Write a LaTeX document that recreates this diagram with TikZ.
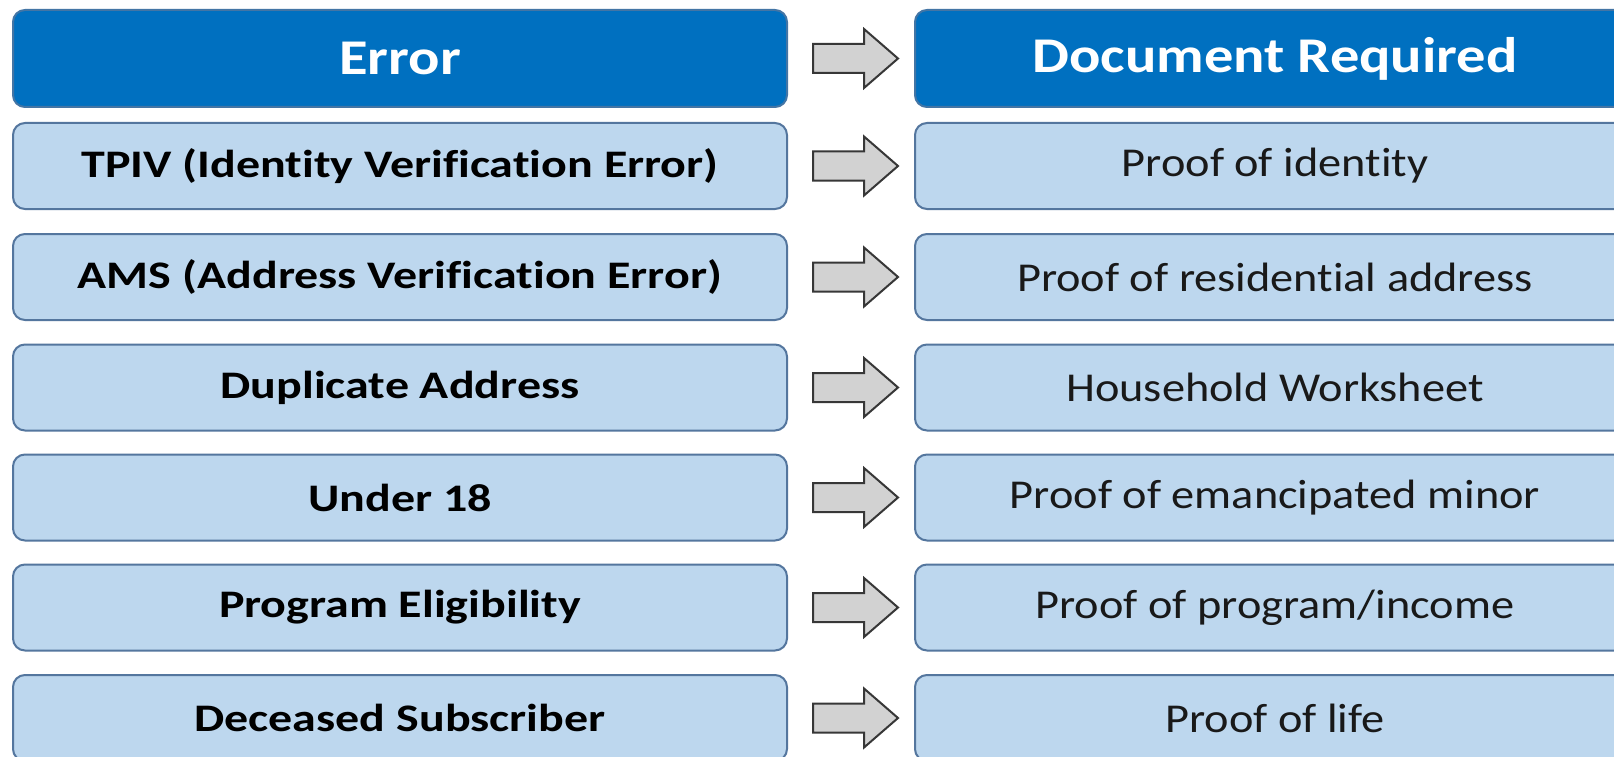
\documentclass[tikz,border=0pt]{standalone}
\usepackage{fontspec}
\setmainfont[FakeStretch=1.13, Ligatures=NoCommon]{Carlito}
\newfontfamily\errfont[FakeStretch=1.23, Ligatures=NoCommon]{Carlito}
\newfontfamily\headfont[FakeStretch=1.17, Ligatures=NoCommon]{Carlito}
\usetikzlibrary{calc}
\definecolor{headblue}{RGB}{0,112,192}
\definecolor{cellblue}{RGB}{189,215,238}
\definecolor{edgeblue}{RGB}{84,118,158}
\definecolor{arrowfill}{RGB}{210,210,210}
\definecolor{arrowedge}{RGB}{55,55,55}
\definecolor{txt}{RGB}{25,25,25}
\tikzset{
  cell/.style={rounded corners=12pt, line width=2pt, draw=edgeblue, fill=cellblue,
    inner sep=0pt, minimum height=86pt, text=txt},
  errcell/.style={cell, minimum width=774pt, text=black, font=\errfont\fontsize{39}{40}\selectfont\bfseries},
  doccell/.style={cell, minimum width=720pt, font=\fontsize{41}{42}\selectfont},
  headcell/.style={cell, fill=headblue, draw=edgeblue!80!headblue, minimum height=97pt,
    text=white, font=\headfont\fontsize{50}{52}\selectfont\bfseries},
  blockarrow/.style={draw=arrowedge, fill=arrowfill, line width=2pt, line join=miter}
}
\begin{document}
\begin{tikzpicture}[x=1pt, y=-1pt]
  \clip (0,0) rectangle (1614,757);
  \fill[white] (0,0) rectangle (1614,757);

  % header row
  \node[headcell, minimum width=774pt] (l0) at (400,58.5) {Error};
  \node[headcell, minimum width=720pt] (r0) at (1275,58.5) {Document Required};

  % error / document rows
  \node[errcell] (l1) at (400,166) {TPIV (Identity Verification Error)};
  \node[doccell] (r1) at (1275,166) {Proof of identity};
  \node[errcell] (l2) at (400,277) {AMS (Address Verification Error)};
  \node[doccell] (r2) at (1275,277) {Proof of residential address};
  \node[errcell] (l3) at (400,387.5) {Duplicate Address};
  \node[doccell] (r3) at (1275,387.5) {Household Worksheet};
  \node[errcell] (l4) at (400,497.5) {Under 18};
  \node[doccell] (r4) at (1275,497.5) {Proof of emancipated minor};
  \node[errcell] (l5) at (400,607.5) {Program Eligibility};
  \node[doccell] (r5) at (1275,607.5) {Proof of program/income};
  \node[errcell] (l6) at (400,718) {Deceased Subscriber};
  \node[doccell] (r6) at (1275,718) {Proof of life};

  % block arrows between the columns
  \foreach \i in {0,...,6}{
    \draw[blockarrow, shift={(l\i.east)}]
      (25,-14.5) -- (76,-14.5) -- (76,-29.5) -- (110,0) -- (76,29.5) -- (76,14.5) -- (25,14.5) -- cycle;
  }
\end{tikzpicture}
\end{document}
